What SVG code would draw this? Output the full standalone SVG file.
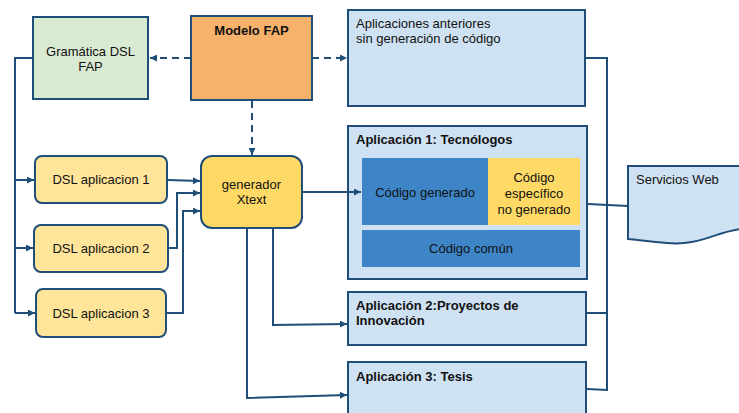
<svg xmlns="http://www.w3.org/2000/svg" width="739" height="413" viewBox="0 0 739 413">
<defs>
<marker id="ah" viewBox="0 0 10 10" refX="10" refY="5" markerWidth="9" markerHeight="7" markerUnits="userSpaceOnUse" orient="auto">
<path d="M0,0 L10,5 L0,10 z" fill="#1f4e79"/>
</marker>
<style>
.box{stroke:#1f4e79;stroke-width:2}
.t{font-family:"Liberation Sans",Arial,sans-serif;font-size:13px;fill:#111}
.b{font-weight:bold}
.c{text-anchor:middle}
.ln{fill:none;stroke:#1f4e79;stroke-width:2}
.dash{stroke-dasharray:7,5}
</style>
</defs>
<g id="gramatica">
<rect class="box" x="33" y="17" width="115" height="82" fill="#d9ead3"/>
<text class="t c" x="90.5" y="56">Gramática DSL</text>
<text class="t c" x="90.5" y="71">FAP</text>
</g>
<g id="modelo">
<rect class="box" x="191" y="16" width="121" height="84" fill="#f6b26b"/>
<text class="t b c" x="251.5" y="35">Modelo FAP</text>
</g>
<g id="anteriores">
<rect class="box" x="348" y="10" width="237" height="96" fill="#cfe2f3"/>
<text class="t" x="356" y="28">Aplicaciones anteriores</text>
<text class="t" x="356" y="43">sin generación de código</text>
</g>
<g id="dsl1">
<rect class="box" x="35" y="156" width="132" height="47" rx="7" fill="#ffe599"/>
<text class="t c" x="101" y="184">DSL aplicacion 1</text>
</g>
<g id="dsl2">
<rect class="box" x="34" y="225" width="134" height="47" rx="7" fill="#ffe599"/>
<text class="t c" x="101" y="253">DSL aplicacion 2</text>
</g>
<g id="dsl3">
<rect class="box" x="36" y="289" width="130" height="48" rx="7" fill="#ffe599"/>
<text class="t c" x="101" y="318">DSL aplicacion 3</text>
</g>
<g id="generador">
<rect class="box" x="201" y="156" width="101" height="72" rx="11" fill="#ffd966"/>
<text class="t c" x="251.5" y="189">generador</text>
<text class="t c" x="251.5" y="204">Xtext</text>
</g>
<g id="app1">
<rect class="box" x="348" y="126" width="239" height="153" fill="#cfe2f3"/>
<text class="t b" x="356" y="144">Aplicación 1: Tecnólogos</text>
<rect x="362" y="158" width="126" height="67" fill="#3d85c6"/>
<text class="t c" x="425" y="197">Código generado</text>
<rect x="488" y="158" width="92" height="67" fill="#ffd966"/>
<text class="t c" x="534" y="182">Código</text>
<text class="t c" x="534" y="198">específico</text>
<text class="t c" x="534" y="214">no generado</text>
<rect x="362" y="230" width="218" height="37" fill="#3d85c6"/>
<text class="t c" x="471" y="253">Código común</text>
</g>
<g id="app2">
<rect class="box" x="348" y="292" width="238" height="53" fill="#cfe2f3"/>
<text class="t b" x="356" y="310">Aplicación 2:Proyectos de</text>
<text class="t b" x="356" y="325">Innovación</text>
</g>
<g id="app3">
<rect class="box" x="348" y="362" width="238" height="60" fill="#cfe2f3"/>
<text class="t b" x="356" y="381">Aplicación 3: Tesis</text>
</g>
<g id="servicios">
<path class="box" d="M628,166 L741,166 L741,229 C715,232 700,246 667,243 C650,242 640,240 628,239 Z" fill="#cfe2f3"/>
<text class="t" x="636" y="184">Servicios Web</text>
</g>
<g id="connectors">
<path class="ln dash" d="M191,58 L150,58" marker-end="url(#ah)"/>
<path class="ln dash" d="M312,58 L347,58" marker-end="url(#ah)"/>
<path class="ln dash" d="M252,101 L252,155" marker-end="url(#ah)"/>
<path class="ln" d="M33,58 L15,58 L15,313"/>
<path class="ln" d="M15,180 L34,180" marker-end="url(#ah)"/>
<path class="ln" d="M15,248 L33,248" marker-end="url(#ah)"/>
<path class="ln" d="M15,313 L35,313" marker-end="url(#ah)"/>
<path class="ln" d="M168,180 L200,181" marker-end="url(#ah)"/>
<path class="ln" d="M169,248 L177,248 L177,193 L200,193" marker-end="url(#ah)"/>
<path class="ln" d="M167,313 L183,313 L183,211 L200,211" marker-end="url(#ah)"/>
<path class="ln" d="M303,192 L361,192" marker-end="url(#ah)"/>
<path class="ln" d="M273,229 L273,325 L347,324" marker-end="url(#ah)"/>
<path class="ln" d="M247,229 L247,398 L347,395" marker-end="url(#ah)"/>
<path class="ln" d="M586,58 L607,58 L607,390 L587,389"/>
<path class="ln" d="M587,313 L607,313"/>
<path class="ln" d="M588,204 L628,206"/>
</g>
</svg>
